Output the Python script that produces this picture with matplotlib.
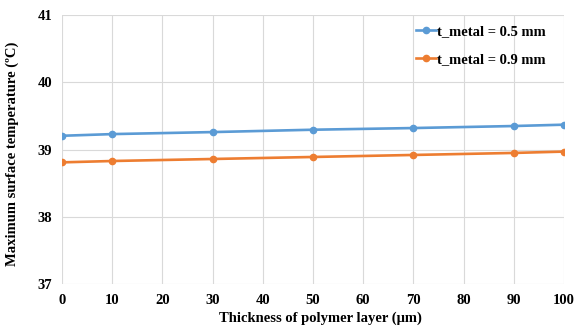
import matplotlib
matplotlib.use("Agg")
import matplotlib.pyplot as plt

thickness = [0, 10, 30, 50, 70, 90, 100]
temp_05 = [39.205, 39.23, 39.26, 39.295, 39.32, 39.35, 39.37]
temp_09 = [38.81, 38.83, 38.86, 38.89, 38.92, 38.95, 38.97]
labels = ["t_metal = 0.5 mm", "t_metal = 0.9 mm"]
xticks = list(range(0, 101, 10))
yticks = [37, 38, 39, 40, 41]

plt.rcParams['font.family'] = ['Liberation Serif', 'DejaVu Serif']
plt.rcParams['font.weight'] = 'bold'

fig = plt.figure(figsize=(5.81, 3.30), dpi=100)
ax = fig.add_axes([0.1067, 0.139, 0.864, 0.8155])

ax.plot(thickness, temp_05, color='#5B9BD5', marker='o', markersize=4.5, linewidth=1.9, label=labels[0], zorder=3)
ax.plot(thickness, temp_09, color='#ED7D31', marker='o', markersize=4.5, linewidth=1.9, label=labels[1], zorder=3)

ax.set_xlim(0, 100)
ax.set_ylim(37, 41)
ax.set_xticks(xticks)
ax.set_yticks(yticks)
ax.grid(True, color='#D9D9D9', linewidth=0.8)
ax.set_axisbelow(True)
for s in ax.spines.values():
    s.set_visible(False)
ax.tick_params(length=0, labelsize=10.5, pad=7)
for lab in ax.get_xticklabels() + ax.get_yticklabels():
    lab.set_fontweight('bold')

ax.set_xlabel("Thickness of polymer layer (μm)", fontsize=10.5, fontweight='bold', labelpad=4)
ax.set_ylabel("Maximum surface temperature (\u00baC)", fontsize=10.5, fontweight='bold')
ax.xaxis.set_label_coords(0.515, -0.1)
ax.yaxis.set_label_coords(-0.085, 0.483)

leg = ax.legend(loc='upper right', bbox_to_anchor=(0.985, 1.0), frameon=False, fontsize=10.5,
                handlelength=1.4, handletextpad=0.1, borderaxespad=0.3, labelspacing=1.0)
for t in leg.get_texts():
    t.set_fontweight('bold')

fig.savefig("out.png", dpi=100)
